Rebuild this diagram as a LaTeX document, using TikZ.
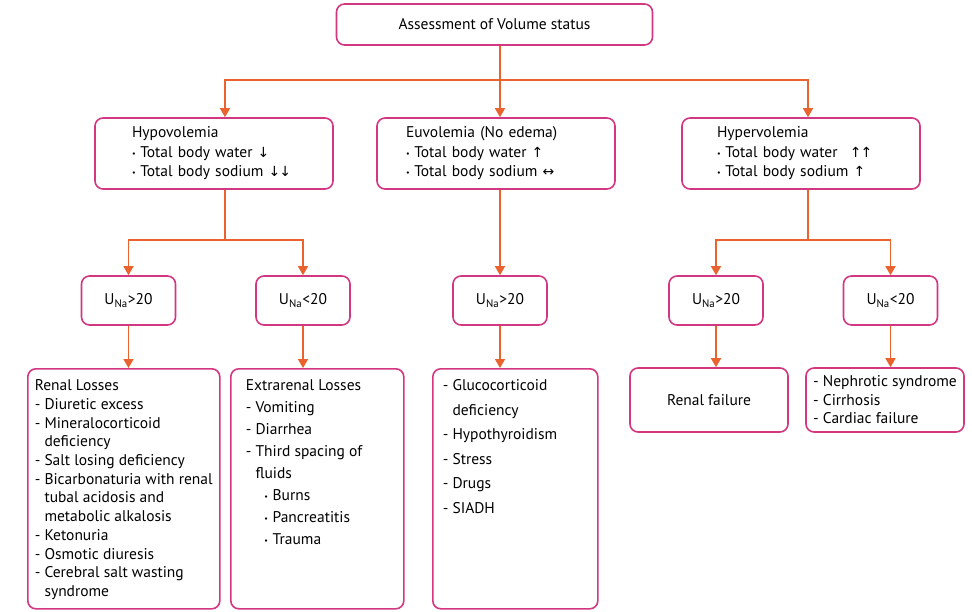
\documentclass[tikz,border=0pt]{standalone}
\usepackage{fontspec}
\setmainfont{PT Sans}
\newfontfamily\arrowfont{DejaVu Sans}
\usepackage{tikz}
\usetikzlibrary{arrows.meta}
\definecolor{boxpink}{RGB}{212,55,130}
\definecolor{linkorange}{RGB}{234,98,45}
\newcommand\bulit{\raisebox{0.15ex}{\fontsize{8}{8}\selectfont\textbullet}\hspace{0.3em}}
\newcommand\arw[1]{{\arrowfont\fontsize{14}{14}\selectfont #1}}

\begin{document}
\begin{tikzpicture}[x=1pt,y=-1pt]
      \tikzstyle{pbox}=[draw=boxpink,line width=1.6pt,rounded corners=8pt,fill=white,inner sep=0pt,font=\fontsize{15.5}{19.5}\selectfont]
      \tikzstyle{vol}=[pbox,minimum height=71pt,align=left]
      \tikzstyle{una}=[pbox,minimum width=94pt,minimum height=49pt]
      \tikzstyle{cause}=[pbox,anchor=north west,inner ysep=11pt]
      \tikzstyle{arr}=[draw=linkorange,line width=1.5pt,-{Triangle[length=9pt,width=10pt]}]
      \path[fill=white] (0,0) rectangle (972,611);
      \useasboundingbox (0,0) rectangle (972,611);
      \node[pbox,minimum width=316pt,minimum height=41pt] (top) at (494.5,24.5) {Assessment of Volume status};
      \node[vol,inner xsep=37pt,text width=164pt] (hypo) at (214,153.5) {Hypovolemia\\ \bulit Total body water \arw{↓}\\ \bulit Total body sodium \arw{↓\kern-1pt↓}};
      \node[vol,inner xsep=29pt,text width=180pt] (euvo) at (496,153.5) {Euvolemia (No edema)\\ \bulit Total body water \arw{↑}\\ \bulit Total body sodium \arw{↔}};
      \node[vol,inner xsep=35pt,text width=168pt] (hyper) at (801,153.5) {Hypervolemia\\ \bulit Total body water\hspace{0.8em}\arw{↑\kern-1pt↑}\\ \bulit Total body sodium \arw{↑}};
      \node[una] (u1) at (128.5,300.5) {U\textsubscript{Na}>20};
      \node[una] (u2) at (303,300.5) {U\textsubscript{Na}<20};
      \node[una] (u3) at (500,300.5) {U\textsubscript{Na}>20};
      \node[una] (u4) at (716,300.5) {U\textsubscript{Na}>20};
      \node[una] (u5) at (890.5,300.5) {U\textsubscript{Na}<20};
      \node[cause,inner xsep=7pt,font=\fontsize{15.5}{18.7}\selectfont] (renal) at (27,368) {\parbox[c][218pt][t]{178pt}{\raggedright Renal Losses\\
        - Diuretic excess\\
        - Mineralocorticoid\\
        \phantom{- }deficiency\\
        - Salt losing deficiency\\
        - Bicarbonaturia with renal\\
        \phantom{- }tubal acidosis and\\
        \phantom{- }metabolic alkalosis\\
        - Ketonuria\\
        - Osmotic diuresis\\
        - Cerebral salt wasting\\
        \phantom{- }syndrome}};
      \node[cause,inner xsep=15pt,font=\fontsize{15.5}{22}\selectfont] (extra) at (230,368) {\parbox[c][218pt][t]{143pt}{\raggedright Extrarenal Losses\\
        - Vomiting\\
        - Diarrhea\\
        - Third spacing of\\
        \phantom{- }fluids\\
        \hspace*{1.2em}\bulit Burns\\
        \hspace*{1.2em}\bulit Pancreatitis\\
        \hspace*{1.2em}\bulit Trauma}};
      \node[cause,inner xsep=10pt,font=\fontsize{15.5}{24.5}\selectfont] (euc) at (432,368) {\parbox[c][218pt][t]{145pt}{\raggedright - Glucocorticoid\\
        \phantom{- }deficiency\\
        - Hypothyroidism\\
        - Stress\\
        - Drugs\\
        - SIADH}};
      \node[pbox,minimum width=158pt,minimum height=64pt] (rf) at (709,400) {Renal failure};
      \node[pbox,minimum width=158pt,minimum height=64pt,align=left,font=\fontsize{15.5}{18.5}\selectfont] (neph) at (885,400) {- Nephrotic syndrome\\ - Cirrhosis\\ - Cardiac failure};
      \coordinate (j0) at (500,80);
      \coordinate (j1) at (225,80);
      \coordinate (j3) at (808,80);
      \coordinate (k1) at (225,240);
      \coordinate (k3) at (808,240);
      \draw[arr] (top.south -| j0) -- (j0) -| (j1 |- hypo.north);
      \draw[arr] (top.south -| j0) -- (euvo.north -| j0);
      \draw[arr] (top.south -| j0) -- (j0) -| (j3 |- hyper.north);
      \draw[arr] (hypo.south -| k1) -- (k1) -| (u1.north);
      \draw[arr] (hypo.south -| k1) -- (k1) -| (u2.north);
      \draw[arr] (euvo.south -| j0) -- (u3.north);
      \draw[arr] (hyper.south -| k3) -- (k3) -| (u4.north);
      \draw[arr] (hyper.south -| k3) -- (k3) -| (u5.north);
      \draw[arr] (u1.south) -- (u1.south |- renal.north);
      \draw[arr] (u2.south) -- (u2.south |- extra.north);
      \draw[arr] (u3.south) -- (u3.south |- euc.north);
      \draw[arr] (u4.south) -- (u4.south |- rf.north);
      \draw[arr] (u5.south) -- (u5.south |- neph.north);
\end{tikzpicture}
\end{document}
